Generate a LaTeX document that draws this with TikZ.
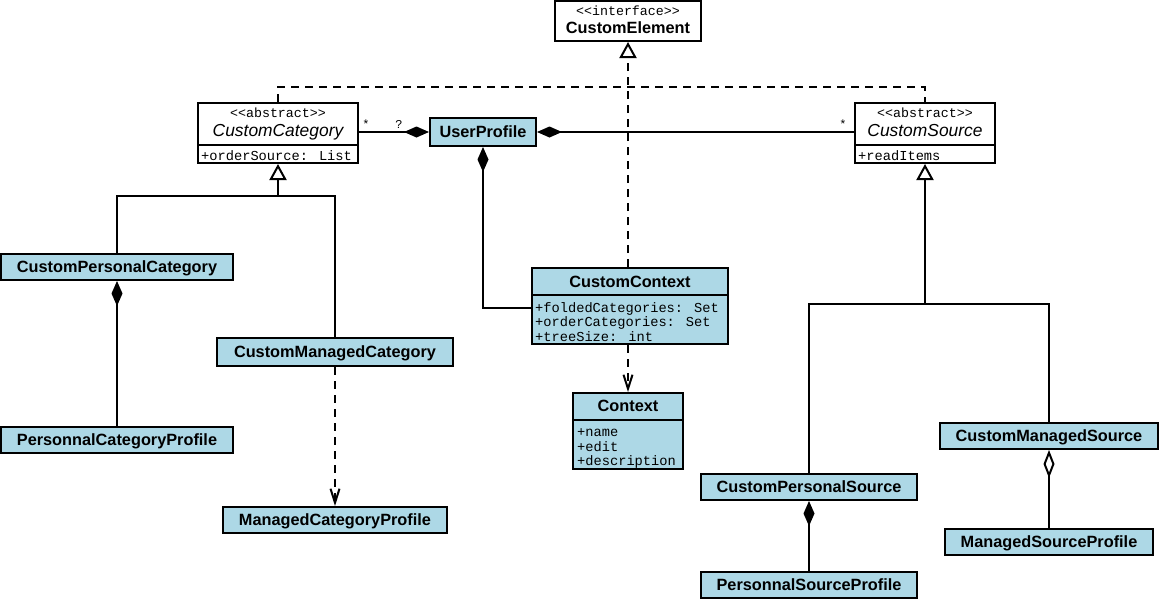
\documentclass[tikz,border=0pt]{standalone}
\usepackage{fontspec}
\setmainfont{Liberation Sans}
\newfontfamily\monofont{Liberation Mono}
\usetikzlibrary{arrows.meta}
\definecolor{clsblue}{HTML}{ADD8E6}

\begin{document}
\begin{tikzpicture}[x=1pt,y=-1pt,
  box/.style={draw=black, line width=2pt, fill=clsblue, inner sep=0pt, anchor=center},
  plainbox/.style={box, fill=white},
  single/.style={box, font=\fontsize{16.3}{18}\selectfont\bfseries, text height=11.7pt, text depth=0pt},
  hdr/.style={inner sep=0pt, font=\fontsize{16.3}{18}\selectfont\bfseries, text height=11.7pt, text depth=0pt},
  aname/.style={inner sep=0pt, font=\fontsize{17.4}{19}\selectfont\itshape, text height=12.4pt, text depth=0pt},
  stereo/.style={inner sep=0pt, font=\monofont\fontsize{13.3}{15}\selectfont, text height=6pt, text depth=0pt},
  attr/.style={inner sep=0pt, anchor=west, font=\monofont\fontsize{13.7}{15}\selectfont, text height=8pt, text depth=0pt},
  mult/.style={inner sep=0pt, font=\monofont\fontsize{12}{14}\selectfont},
  conn/.style={line width=2pt},
  dconn/.style={conn, dash pattern=on 8pt off 6pt},
  inherit/.style={-{Triangle[open,length=16pt,width=17pt,fill=white]}},
  realize/.style={dconn, -{Triangle[open,length=16pt,width=17pt,fill=white]}},
  depend/.style={dconn, -{Straight Barb[length=14pt,width=9pt]}},
  compose/.style={{Diamond[length=25pt,width=11pt]}-},
  aggregate/.style={{Diamond[open,length=28pt,width=11pt,fill=white]}-}
]
\fill[white] (0,0) rectangle (1159,600);
\useasboundingbox (0,0) rectangle (1159,600);

% ---------- interface ----------
\node[plainbox, minimum width=146, minimum height=40] (ce) at (628,21) {};
\node[stereo] (cest) at (628,12) {<\kern0pt<interface>\kern0pt>};
\node[hdr] (cenm) at (628,28) {CustomElement};

% ---------- abstract category ----------
\node[plainbox, minimum width=160, minimum height=60] (cat) at (278,133) {};
\node[stereo] (catst) at (278,114) {<\kern0pt<abstract>\kern0pt>};
\node[aname] (catnm) at (278,130) {CustomCategory};
\draw[line width=1.8pt] (198,145) -- (358,145);
\node[attr] (cata) at (201,156) {+orderSource: List};

% ---------- abstract source ----------
\node[plainbox, minimum width=140, minimum height=60] (src) at (925,133) {};
\node[stereo] (srcst) at (925,114) {<\kern0pt<abstract>\kern0pt>};
\node[aname] (srcnm) at (925,130) {CustomSource};
\draw[line width=1.8pt] (855,145) -- (995,145);
\node[attr] (srca) at (858,156) {+readItems};

% ---------- user profile ----------
\node[single, minimum width=106, minimum height=28] (up) at (483,132) {UserProfile};

% ---------- contexts ----------
\node[box, minimum width=196, minimum height=76] (ctx) at (630,306) {};
\node[hdr] (ctxnm) at (630,282) {CustomContext};
\draw[line width=1.8pt] (532,295) -- (728,295);
\node[attr] (ctxa) at (535,308) {+foldedCategories: Set};
\node[attr] (ctxb) at (535,322.5) {+orderCategories: Set};
\node[attr] (ctxc) at (535,337) {+treeSize: int};

\node[box, minimum width=110, minimum height=76] (cx) at (628,431) {};
\node[hdr] (cxnm) at (628,406) {Context};
\draw[line width=1.8pt] (573,420) -- (683,420);
\node[attr] (cxa) at (577,432.5) {+name};
\node[attr] (cxb) at (577,447) {+edit};
\node[attr] (cxc) at (577,461.5) {+description};

% ---------- categories ----------
\node[single, minimum width=232, minimum height=26] (cpc) at (117,267) {CustomPersonalCategory};
\node[single, minimum width=232, minimum height=26] (pcp) at (117,440) {PersonnalCategoryProfile};
\node[single, minimum width=236, minimum height=28] (cmc) at (335,352) {CustomManagedCategory};
\node[single, minimum width=224, minimum height=26] (mcp) at (335,520) {ManagedCategoryProfile};

% ---------- sources ----------
\node[single, minimum width=218, minimum height=26] (cms) at (1049,436) {CustomManagedSource};
\node[single, minimum width=208, minimum height=26] (msp) at (1049,542) {ManagedSourceProfile};
\node[single, minimum width=216, minimum height=26] (cps) at (809,487) {CustomPersonalSource};
\node[single, minimum width=216, minimum height=26] (psp) at (809,585) {PersonnalSourceProfile};

% ---------- realization of the interface ----------
\draw[realize] (ctx.north -| ce.south) -- (ce.south);
\draw[dconn] (cat.north) -- ++(0,-15) -| (src.north);

% ---------- associations of the user profile ----------
\draw[conn, -{Diamond[length=25pt,width=11pt]}] (cat.east |- up.west) --
  node[mult, pos=0.1, above=3pt] (m1) {*}
  node[mult, pos=0.57, above=3pt] (m2) {?} (up.west);
\draw[conn, compose] (up.east) --
  node[mult, pos=0.965, above=3pt] (m3) {*} (src.west |- up.east);
\draw[conn, compose] (up.south) |- ([yshift=-2pt]ctx.west);

% ---------- category hierarchy ----------
\coordinate (catj) at (278,196);
\draw[conn] (cpc.north) |- (cmc.north |- catj) -- (cmc.north);
\draw[conn, inherit] (catj) -- (cat.south);
\draw[conn, compose] (cpc.south) -- (pcp.north);
\draw[depend] (cmc.south) -- (mcp.north);

% ---------- context dependency ----------
\draw[depend] (ctx.south -| cx.north) -- (cx.north);

% ---------- source hierarchy ----------
\coordinate (srcj) at (925,304);
\draw[conn] (cps.north) |- (cms.north |- srcj) -- (cms.north);
\draw[conn, inherit] (srcj) -- (src.south);
\draw[conn, compose] (cps.south) -- (psp.north);
\draw[conn, aggregate] (cms.south) -- (msp.north);
\end{tikzpicture}
\end{document}
